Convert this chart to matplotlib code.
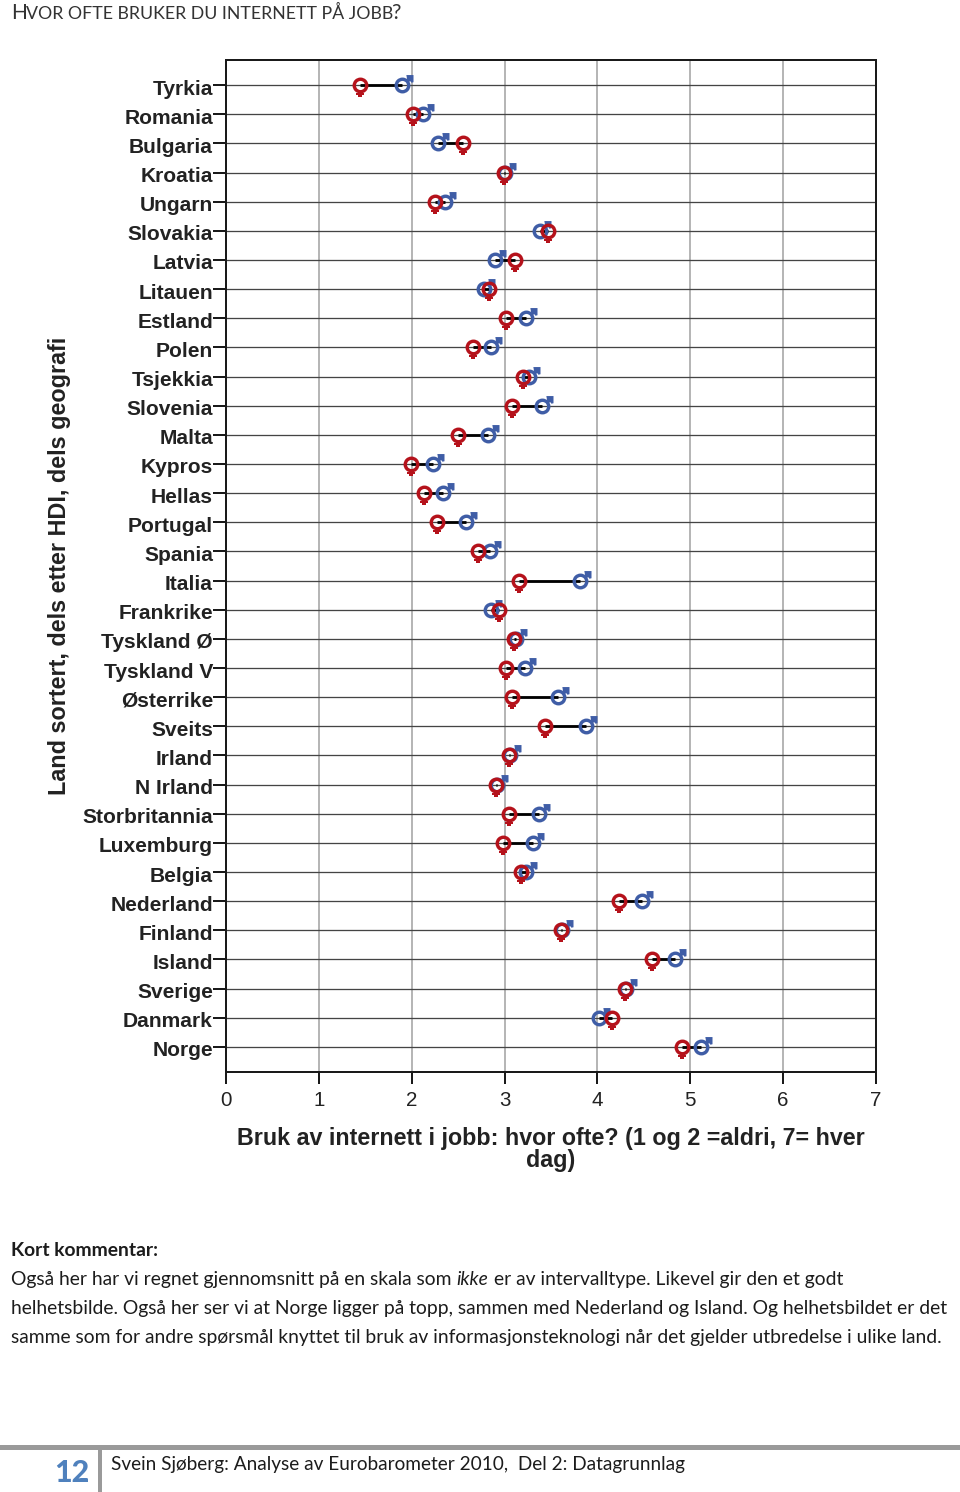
import matplotlib
matplotlib.use("Agg")
import matplotlib.pyplot as plt
from matplotlib.path import Path
from matplotlib.transforms import ScaledTranslation

countries = ["Tyrkia","Romania","Bulgaria","Kroatia","Ungarn","Slovakia","Latvia","Litauen","Estland","Polen",
             "Tsjekkia","Slovenia","Malta","Kypros","Hellas","Portugal","Spania","Italia","Frankrike","Tyskland Ø",
             "Tyskland V","Østerrike","Sveits","Irland","N Irland","Storbritannia","Luxemburg","Belgia","Nederland",
             "Finland","Island","Sverige","Danmark","Norge"]
female = [1.44,2.01,2.55,2.99,2.25,3.47,3.11,2.83,3.02,2.66,3.20,3.08,2.50,1.99,2.13,2.27,2.71,3.16,2.94,3.10,
          3.02,3.08,3.44,3.05,2.91,3.05,2.98,3.18,4.23,3.61,4.59,4.30,4.16,4.91]
male = [1.90,2.12,2.28,3.00,2.36,3.38,2.90,2.78,3.23,2.85,3.26,3.40,2.82,2.23,2.34,2.58,2.84,3.81,2.85,3.12,
        3.22,3.58,3.88,3.06,2.92,3.37,3.31,3.23,4.48,3.62,4.84,4.31,4.02,5.12]
xticks = [0,1,2,3,4,5,6,7]
xtitle = "Bruk av internett i jobb: hvor ofte? (1 og 2 =aldri, 7= hver\ndag)"
ytitle = "Land sortert, dels etter HDI, dels geografi"

W, H = 960, 1492
fig = plt.figure(figsize=(W/100, H/100), dpi=100)
PX = 72/100
AR = "Liberation Sans"
SANS = "Lato"

def fy(y): return 1 - y/H
def fx(x): return x/W

ax = fig.add_axes([fx(226), fy(1072), 650/W, 1012/H])
ax.set_xlim(0, 7)
ax.set_ylim(33.86, -0.86)

RED, BLUE = "#b5121b", "#3f5da6"
tail = Path([(-0.2,-0.5),(0.2,-0.5),(0.2,-0.66),(0.32,-0.66),(0.32,-0.86),(0.15,-0.86),(0.15,-1),(-0.15,-1),
             (-0.15,-0.86),(-0.32,-0.86),(-0.32,-0.66),(-0.2,-0.66),(-0.2,-0.5)], closed=True)
arrow = Path([(0.3,0.45),(0.42,0.55),(0.35,0.95),(1,0.95),(1,0.3),(0.82,0.25),(0.7,0.4),(0.5,0.28),(0.3,0.45)], closed=True)

ax.set_xticks(xticks)
ax.xaxis.grid(True, color="#a0a0a0", lw=1.1)
ax.set_axisbelow(True)
ypos = list(range(len(countries)))
for y in ypos:
    ax.axhline(y, color="#444444", lw=1.3*PX, zorder=1.5)
ax.hlines(ypos, female, male, color="black", lw=2.8*PX, zorder=2)

S = 12.5*PX
ax.plot(male, ypos, ls="", marker=arrow, ms=22*PX, mfc=BLUE, mec=BLUE, mew=0, zorder=3)
ax.plot(male, ypos, ls="", marker="o", ms=S, mfc="none", mec=BLUE, mew=3.4*PX, zorder=3)
ax.plot(female, ypos, ls="", marker=tail, ms=24*PX, mfc=RED, mec=RED, mew=0, zorder=4)
ax.plot(female, ypos, ls="", marker="o", ms=S, mfc="none", mec=RED, mew=3.4*PX, zorder=4)

for s in ax.spines.values():
    s.set_linewidth(2*PX); s.set_color("#1a1a1a")
ax.set_yticks(ypos)
ax.set_yticklabels(countries, fontfamily=AR, fontweight="bold", fontsize=21*PX, color="#222222")
ax.set_xticklabels([str(v) for v in xticks], fontfamily=AR, fontsize=20.5*PX, color="#222222")
ax.tick_params(axis="y", length=13*PX, width=2*PX, pad=0, color="#1a1a1a")
ax.tick_params(axis="x", length=12*PX, width=2*PX, pad=5, color="#1a1a1a")
off = ScaledTranslation(0, -2/100, fig.dpi_scale_trans)
for t in ax.get_yticklabels():
    t.set_transform(t.get_transform() + off)

fig.text(fx(551), fy(1138), xtitle.split("\n")[0], family=AR, weight="bold", fontsize=23.3*PX, ha="center", va="center", color="#222222")
fig.text(fx(551), fy(1161), xtitle.split("\n")[1], family=AR, weight="bold", fontsize=23.3*PX, ha="center", va="center", color="#222222")
fig.text(fx(60), fy(566), ytitle, family=AR, weight="bold", fontsize=23.4*PX, rotation=90, ha="center", va="center", color="#222222")

TXT = "#1c1c1c"
HEAD = "#333333"
fig.text(fx(11), fy(19), "H", family=SANS, fontsize=21*PX, color=HEAD)
fig.text(fx(26), fy(19), "VOR OFTE BRUKER DU INTERNETT PÅ JOBB", family=SANS, fontsize=17.7*PX, color=HEAD)
fig.text(fx(391), fy(19), "?", family=SANS, fontsize=21*PX, color=HEAD)

B = 19.3
fig.text(fx(11), fy(1256), "Kort kommentar:", family=SANS, fontsize=B*PX, weight="bold", color=TXT)
fig.text(fx(11), fy(1285), "Også her har vi regnet gjennomsnitt på en skala som", family=SANS, fontsize=B*PX, color=TXT)
fig.text(fx(456), fy(1285), "ikke", family=SANS, fontsize=B*PX, style="italic", color=TXT)
fig.text(fx(494), fy(1285), "er av intervalltype. Likevel gir den et godt", family=SANS, fontsize=B*PX, color=TXT)
fig.text(fx(11), fy(1314), "helhetsbilde. Også her ser vi at Norge ligger på topp, sammen med Nederland og Island. Og helhetsbildet er det", family=SANS, fontsize=B*PX, color=TXT)
fig.text(fx(11), fy(1343), "samme som for andre spørsmål knyttet til bruk av informasjonsteknologi når det gjelder utbredelse i ulike land.", family=SANS, fontsize=B*PX, color=TXT)

fig.add_artist(plt.Line2D([0, 1], [fy(1447), fy(1447)], color="#9a9a9a", lw=5*PX))
fig.add_artist(plt.Line2D([fx(99.5), fx(99.5)], [fy(1447), fy(1491)], color="#9a9a9a", lw=4*PX))
fig.text(fx(54), fy(1482), "12", family=SANS, weight="black", fontsize=30.5*PX, color="#4f81bd")
fig.text(fx(111), fy(1470), "Svein Sjøberg: Analyse av Eurobarometer 2010,  Del 2: Datagrunnlag", family=SANS, fontsize=19.07*PX, color=TXT)

fig.savefig("out.png", dpi=100)
